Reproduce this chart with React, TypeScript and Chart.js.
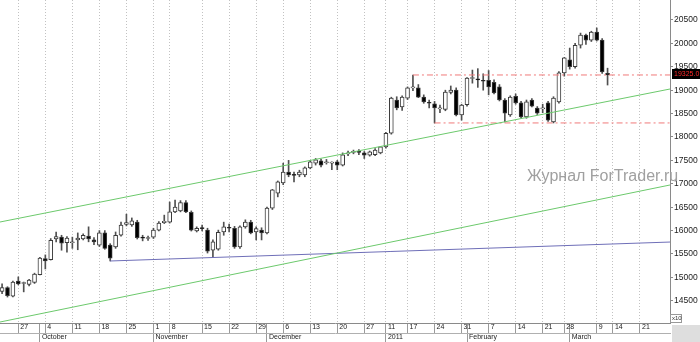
import React, { useEffect, useRef } from 'react';
import { Chart, registerables } from 'chart.js';
Chart.register(...registerables);

// OHLC per trading day (index 0 = 22 Sep 2010 ... 112 = 11 Mar 2011)
const opens = [14700,14780,14600,14920,14870,14850,14890,15060,15400,15380,15820,15860,15740,15740,15800,15820,15880,15800,15690,15950,15690,15650,15900,16130,16120,16180,15850,15830,15860,16010,16170,16180,16400,16420,16600,16390,15990,16050,16010,15580,15600,15970,16060,16050,15650,16080,16180,15970,16010,15950,16480,16800,17020,17250,17190,17190,17190,17340,17440,17490,17450,17440,17470,17400,17640,17670,17680,17660,17610,17620,17660,17790,18080,18790,18640,18830,19050,19050,18850,18730,18710,18600,18590,18950,19000,18470,18690,19250,19230,19200,19210,19170,19070,18790,18470,18870,18730,18430,18790,18620,18600,18730,18320,18750,19370,19650,19500,19960,20180,20070,20240,20070,19360];
const highs = [14860,14800,14920,15010,14900,14960,15090,15430,15480,15830,15970,15900,15870,15860,15950,15930,16080,15850,16000,16000,15720,15970,16180,16350,16270,16220,15900,15880,16050,16190,16330,16610,16650,16640,16640,16420,16080,16120,16050,15800,16010,16180,16140,16090,16100,16230,16220,16080,16060,16500,16880,17060,17440,17500,17250,17290,17360,17500,17540,17530,17520,17470,17500,17660,17700,17720,17730,17690,17700,17750,17800,18100,18850,18860,18880,19070,19325,19120,18900,18790,18760,18680,19000,19090,19050,18700,19270,19430,19460,19350,19420,19220,19120,18820,18880,18920,18760,18790,18820,18650,18700,18760,18860,19400,19700,19900,20000,20220,20200,20260,20330,20100,19470];
const lows = [14650,14580,14580,14840,14690,14820,14870,15050,15180,15370,15760,15580,15540,15620,15590,15800,15760,15700,15660,15600,15350,15620,15880,16100,16090,15820,15780,15790,15830,15990,16150,16160,16380,16400,16380,15990,15970,15990,15520,15430,15580,15900,15970,15620,15620,16050,15930,15800,15800,15930,16450,16720,16980,17150,17040,17150,17150,17320,17400,17360,17420,17300,17300,17380,17600,17640,17620,17540,17590,17600,17640,17760,18060,18580,18570,18800,18990,18840,18720,18620,18300,18520,18560,18920,18450,18360,18660,19150,19060,19000,18900,18920,18770,18320,18440,18700,18400,18400,18640,18480,18520,18330,18300,18720,19300,19450,19470,19900,19980,20040,20050,19360,19110];
const closes = [14780,14610,14900,14860,14880,14940,15070,15410,15350,15790,15870,15730,15840,15750,15840,15900,15820,15760,15950,15620,15410,15900,16120,16170,16210,15850,15840,15850,16010,16160,16200,16400,16500,16600,16400,16010,16050,16040,15560,15760,15960,16080,16050,15650,16080,16180,15950,16040,15950,16480,16870,17040,17250,17190,17180,17250,17340,17470,17510,17400,17460,17450,17400,17620,17660,17680,17670,17610,17680,17720,17790,18080,18830,18620,18850,19050,19060,18850,18750,18720,18620,18610,18960,19000,18470,18680,19260,19260,19220,19190,19070,18940,18790,18510,18850,18730,18430,18750,18660,18510,18620,18360,18830,19370,19690,19500,19960,20180,20070,20240,20070,19390,19325];

// week ticks (trading-day index) and labels
const weekTickIdx = [3,8,13,18,23,28,31,37,42,47,52,57,62,67,71,75,80,85,90,95,100,104,110,113,118];
const weekTickLabels = ['27','4','11','18','25','1','8','15','22','29','6','13','20','27','11','17','24','31','7','14','21','28','9','14','21'];
const monthTickIdx = [7,28,49,71,86,105];
const monthTickLabels = ['October','November','December','2011','February','March'];
const yTickValues = [14500,15000,15500,16000,16500,17000,17500,18000,18500,19000,19500,20000,20500];

const X_MIN = -0.385;
const X_MAX = 123.55;
const Y_MIN = 14025;
const Y_MAX = 20927;

// trend lines (index, value)
const channelUpper = [{ x: X_MIN, y: 16183 }, { x: X_MAX, y: 19025 }];
const channelLower = [{ x: X_MIN, y: 14046 }, { x: X_MAX, y: 16974 }];
const supportBlue = [{ x: 20, y: 15350 }, { x: X_MAX, y: 15755 }];
const resistanceRed = [{ x: 76, y: 19325 }, { x: X_MAX, y: 19325 }];
const supportRed = [{ x: 80, y: 18300 }, { x: X_MAX, y: 18300 }];

const FONT = '"Liberation Sans", Arial, sans-serif';

const decorPlugin = {
  id: 'decor',
  afterDraw(chart: any) {
    const { ctx, chartArea, scales } = chart;
    ctx.save();
    // watermark
    ctx.font = `16px ${FONT}`;
    ctx.fillStyle = '#a0a0a0';
    ctx.textBaseline = 'alphabetic';
    ctx.textAlign = 'left';
    ctx.fillText('Журнал ForTrader.ru', chartArea.right - 143, 181);
    // last price label
    const last = closes[closes.length - 1];
    const py = scales.y.getPixelForValue(last);
    ctx.fillStyle = '#000';
    ctx.fillRect(chartArea.right + 2, Math.round(py) - 6, 28, 10);
    ctx.fillStyle = '#ff2a2a';
    ctx.font = `7px ${FONT}`;
    ctx.textBaseline = 'middle';
    ctx.fillText(last.toFixed(1), chartArea.right + 4, Math.round(py) - 1);
    // corner box
    ctx.fillStyle = '#dedede';
    ctx.fillRect(chartArea.right + 2, chartArea.bottom + 2, 30, 20);
    // x10 box
    ctx.strokeStyle = '#999';
    ctx.lineWidth = 1;
    ctx.strokeRect(chartArea.right + 0.5, chartArea.bottom - 8.5, 11, 8);
    ctx.fillStyle = '#333';
    ctx.font = `6px ${FONT}`;
    ctx.fillText('x10', chartArea.right + 2, chartArea.bottom - 4.5);
    ctx.restore();
  },
};

export default function App() {
  const ref = useRef<HTMLCanvasElement | null>(null);
  useEffect(() => {
    document.body.style.margin = '0';
    const canvas = ref.current;
    if (!canvas) return;
    const bodies = opens.map((o, i) => ({ x: i, y: [o, closes[i]] }));
    const wicks = lows.map((l, i) => ({ x: i, y: [l, highs[i]] }));
    const bodyColors = opens.map((o, i) => (closes[i] >= o ? '#ffffff' : '#000000'));
    const allTicks = Array.from(new Set([...weekTickIdx, ...monthTickIdx])).sort((a, b) => a - b);

    const lineDs = (data: any[], color: string, dash: number[] = []) => ({
      type: 'line',
      data,
      borderColor: color,
      borderWidth: 1,
      borderDash: dash,
      pointRadius: 0,
      fill: false,
      order: 0,
    });

    const chart = new Chart(canvas, {
      type: 'bar',
      data: {
        datasets: [
          lineDs(channelUpper, '#6cc96c'),
          lineDs(channelLower, '#6cc96c'),
          lineDs(supportBlue, '#6f6fb8'),
          lineDs(resistanceRed, '#f07a7a', [6, 3, 2, 3]),
          lineDs(supportRed, '#f07a7a', [6, 3, 2, 3]),
          {
            type: 'bar',
            data: bodies,
            backgroundColor: bodyColors,
            borderColor: '#3a3a3a',
            borderWidth: 1,
            borderSkipped: false,
            barThickness: 4,
            minBarLength: 1,
            grouped: false,
            order: 1,
          },
          {
            type: 'bar',
            data: wicks,
            backgroundColor: '#505050',
            barThickness: 1,
            grouped: false,
            order: 2,
          },
        ] as any,
      },
      options: {
        animation: false,
        responsive: false,
        devicePixelRatio: 1,
        layout: { padding: 0 },
        plugins: { legend: { display: false }, tooltip: { enabled: false } },
        scales: {
          x: {
            type: 'linear',
            position: 'bottom',
            min: X_MIN,
            max: X_MAX,
            bounds: 'data',
            offset: false,
            weight: 0,
            afterBuildTicks: (s: any) => {
              s.ticks = allTicks.map((v) => ({ value: v }));
            },
            afterFit: (s: any) => {
              s.height = 10;
              s.paddingLeft = 0;
              s.paddingRight = 0;
            },
            grid: {
              offset: false,
              drawOnChartArea: true,
              color: (c: any) => (c.tick && weekTickIdx.includes(c.tick.value) ? '#c2c2c2' : 'rgba(0,0,0,0)'),
              tickColor: '#9a9a9a',
              tickLength: 10,
              tickBorderDash: [],
              lineWidth: 1,
            },
            border: { display: true, color: '#8a8a8a', dash: [1, 2] },
            ticks: {
              autoSkip: false,
              maxRotation: 0,
              minRotation: 0,
              align: 'start',
              padding: -10,
              labelOffset: 2,
              color: '#222',
              font: { size: 7, family: FONT },
              callback: (v: any) => {
                const k = weekTickIdx.indexOf(Number(v));
                return k >= 0 ? weekTickLabels[k] : '';
              },
            },
          },
          x2: {
            type: 'linear',
            position: 'bottom',
            min: X_MIN,
            max: X_MAX,
            bounds: 'data',
            offset: false,
            weight: 1,
            afterBuildTicks: (s: any) => {
              s.ticks = monthTickIdx.map((v) => ({ value: v }));
            },
            afterFit: (s: any) => {
              s.height = 9;
              s.paddingLeft = 0;
              s.paddingRight = 0;
            },
            grid: {
              offset: false,
              drawOnChartArea: false,
              color: '#9a9a9a',
              tickColor: '#9a9a9a',
              tickLength: 9,
            },
            border: { display: true, color: '#b0b0b0' },
            ticks: {
              autoSkip: false,
              maxRotation: 0,
              minRotation: 0,
              align: 'start',
              padding: -9,
              labelOffset: 2,
              color: '#222',
              font: { size: 7, family: FONT },
              callback: (v: any) => {
                const k = monthTickIdx.indexOf(Number(v));
                return k >= 0 ? monthTickLabels[k] : '';
              },
            },
          },
          y: {
            type: 'linear',
            position: 'right',
            min: Y_MIN,
            max: Y_MAX,
            bounds: 'data',
            afterBuildTicks: (s: any) => {
              s.ticks = yTickValues.map((v) => ({ value: v }));
            },
            afterFit: (s: any) => {
              s.width = 30;
              s.paddingTop = 0;
              s.paddingBottom = 0;
            },
            grid: {
              drawOnChartArea: false,
              tickLength: 3,
              tickColor: '#8a8a8a',
            },
            border: { display: true, color: '#8a8a8a' },
            ticks: {
              padding: 1,
              color: '#222',
              font: { size: 8.5, family: FONT },
              callback: (v: any) => String(v),
            },
          },
        },
      } as any,
      plugins: [decorPlugin],
    });
    return () => chart.destroy();
  }, []);

  return (
    <div style={{ position: 'fixed', left: 0, top: 0, width: 700, height: 342, background: '#fff' }}>
      <canvas ref={ref} width={700} height={342} style={{ width: 700, height: 342 }} />
    </div>
  );
}
